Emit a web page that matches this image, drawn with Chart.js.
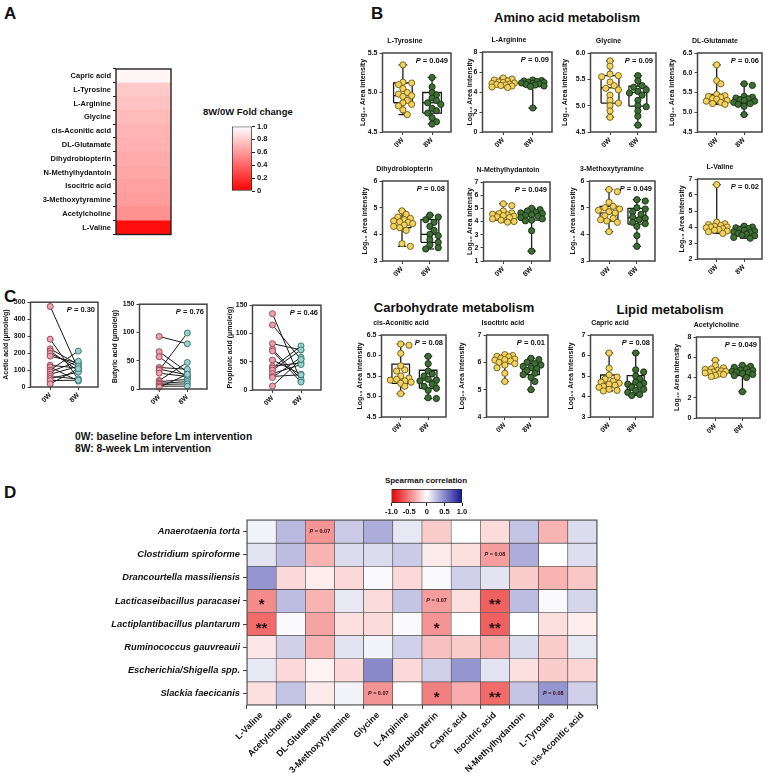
<!DOCTYPE html>
<html>
<head>
<meta charset="utf-8">
<title>Lm intervention metabolites</title>
<script src="https://cdn.jsdelivr.net/npm/chart.js@4.4.1/dist/chart.umd.min.js"></script>
<style>
  body { margin: 0; background: #fff; }
  #fig { position: relative; width: 767px; height: 778px; overflow: hidden; font-family: "Liberation Sans", Arial, sans-serif; color: #111; }
  #fig canvas { position: absolute; }
  .t { position: absolute; font-weight: bold; white-space: nowrap; line-height: 1; }
  .c { transform: translate(-50%, -50%); }
  .l { transform: translate(0, -50%); }
</style>
</head>
<body>
<div id="fig">
  <div class="t" style="left:4px;top:5px;font-size:17px">A</div>
  <div class="t" style="left:371px;top:5px;font-size:17px">B</div>
  <div class="t" style="left:4px;top:288px;font-size:17px">C</div>
  <div class="t" style="left:4px;top:484px;font-size:17px">D</div>
  <div class="t c" style="left:567px;top:17px;font-size:13px">Amino acid metabolism</div>
  <div class="t c" style="left:454px;top:307px;font-size:13px">Carbohydrate metabolism</div>
  <div class="t c" style="left:670px;top:309px;font-size:13px">Lipid metabolism</div>
  <div class="t l" style="left:203px;top:112px;font-size:9.5px">8W/0W Fold change</div>
  <div class="t l" style="left:75px;top:437px;font-size:10.3px">0W: baseline before Lm intervention</div>
  <div class="t l" style="left:75px;top:449px;font-size:10.3px">8W: 8-week Lm intervention</div>
  <div class="t c" style="left:426px;top:481px;font-size:8px">Spearman correlation</div>
</div>
<script>
// Panel A - 8W/0W fold change
const foldNames = ['Capric acid', 'L-Tyrosine', 'L-Arginine', 'Glycine', 'cis-Aconitic acid', 'DL-Glutamate',
  'Dihydrobiopterin', 'N-Methylhydantoin', 'Isocitric acid', '3-Methoxytyramine', 'Acetylcholine', 'L-Valine'];
const foldChange = [0.97, 0.79, 0.76, 0.73, 0.71, 0.69, 0.67, 0.65, 0.63, 0.61, 0.57, 0.05];
const foldTicks = [0, 0.2, 0.4, 0.6, 0.8, 1.0];

// Panel B - Log10 area intensity per sample, box = [min, q1, median, q3, max] for 0W and 8W
const tyrosine0W = [5.35, 5.13, 5.12, 5.1, 5.05, 5.0, 4.98, 4.96, 4.95, 4.9, 4.87, 4.85, 4.83, 4.78, 4.72];
const tyrosine8W = [5.19, 5.07, 5.0, 4.97, 4.93, 4.9, 4.87, 4.85, 4.8, 4.77, 4.74, 4.68, 4.63, 4.6];
const tyrosineBox = [[4.72, 4.87, 4.96, 5.12, 5.35], [4.6, 4.74, 4.87, 5.0, 5.19]];

const arginine0W = [5.4, 5.3, 5.2, 5.1, 5.0, 4.95, 4.9, 4.85, 4.8, 4.75, 4.7, 4.65, 4.6, 4.5, 4.45];
const arginine8W = [5.2, 5.15, 5.1, 5.05, 5.0, 4.95, 4.9, 4.85, 4.8, 4.75, 4.7, 4.6, 4.55, 2.4];
const arginineBox = [[4.45, 4.7, 4.85, 5.0, 5.4], [2.4, 4.6, 4.8, 5.0, 5.2]];

const glycine0W = [5.85, 5.75, 5.6, 5.57, 5.55, 5.45, 5.38, 5.33, 5.3, 5.2, 5.1, 5.05, 5.0, 4.9, 4.78];
const glycine8W = [5.57, 5.47, 5.38, 5.35, 5.3, 5.27, 5.24, 5.2, 5.1, 5.0, 4.98, 4.9, 4.8, 4.63];
const glycineBox = [[4.78, 5.05, 5.34, 5.57, 5.85], [4.63, 4.99, 5.25, 5.37, 5.57]];

const glutamate0W = [6.2, 5.8, 5.72, 5.45, 5.42, 5.4, 5.38, 5.35, 5.33, 5.3, 5.28, 5.25, 5.22, 5.2];
const glutamate8W = [5.72, 5.68, 5.4, 5.38, 5.36, 5.34, 5.32, 5.3, 5.28, 5.25, 5.22, 5.2, 5.15, 4.94];
const glutamateBox = [[5.2, 5.28, 5.37, 5.45, 6.2], [4.94, 5.22, 5.3, 5.37, 5.72]];

const dihydro0W = [4.88, 4.75, 4.65, 4.6, 4.55, 4.5, 4.47, 4.45, 4.4, 4.35, 4.3, 4.25, 4.15, 3.65, 3.55];
const dihydro8W = [4.72, 4.65, 4.55, 4.45, 4.3, 4.15, 4.0, 3.95, 3.8, 3.7, 3.6, 3.5, 3.45];
const dihydroBox = [[3.55, 4.25, 4.45, 4.6, 4.88], [3.45, 3.7, 4.0, 4.55, 4.72]];

const methylhyd0W = [5.35, 5.2, 4.8, 4.65, 4.6, 4.55, 4.5, 4.45, 4.4, 4.35, 4.3, 4.2, 4.1, 4.0, 3.95];
const methylhyd8W = [5.0, 4.9, 4.8, 4.7, 4.65, 4.6, 4.5, 4.45, 4.4, 4.3, 4.2, 4.1, 4.05, 3.3, 1.75];
const methylhydBox = [[3.95, 4.1, 4.35, 4.65, 5.35], [1.75, 4.1, 4.4, 4.65, 5.0]];

const methoxy0W = [5.68, 5.6, 5.2, 5.05, 5.0, 4.95, 4.9, 4.85, 4.8, 4.7, 4.6, 4.55, 4.5, 4.45, 4.1];
const methoxy8W = [5.3, 5.25, 5.0, 4.95, 4.85, 4.75, 4.65, 4.6, 4.55, 4.45, 4.4, 4.3, 3.95, 3.55];
const methoxyBox = [[4.1, 4.5, 4.8, 5.05, 5.68], [3.55, 4.38, 4.62, 4.97, 5.3]];

const valine0W = [6.65, 4.3, 4.2, 4.15, 4.1, 4.05, 4.0, 4.0, 3.95, 3.9, 3.85, 3.8, 3.75, 3.7, 3.6];
const valine8W = [4.05, 4.0, 3.95, 3.9, 3.85, 3.8, 3.75, 3.7, 3.65, 3.6, 3.55, 3.5, 3.45, 3.35, 3.3];
const valineBox = [[3.6, 3.82, 4.0, 4.15, 6.65], [3.3, 3.5, 3.7, 3.9, 4.05]];

const aconitic0W = [6.28, 6.25, 6.05, 5.75, 5.65, 5.62, 5.5, 5.45, 5.42, 5.4, 5.38, 5.35, 5.32, 5.25, 5.07];
const aconitic8W = [5.98, 5.8, 5.62, 5.55, 5.5, 5.42, 5.4, 5.38, 5.3, 5.25, 5.2, 5.15, 4.97, 4.95];
const aconiticBox = [[5.07, 5.32, 5.43, 5.79, 6.28], [4.95, 5.2, 5.4, 5.64, 5.98]];

const isocitric0W = [6.28, 6.25, 6.22, 6.2, 6.15, 6.12, 6.1, 6.08, 6.05, 6.0, 5.95, 5.9, 5.8, 5.6, 5.3];
const isocitric8W = [6.15, 6.1, 6.0, 5.95, 5.9, 5.85, 5.8, 5.77, 5.7, 5.6, 5.55, 5.45, 5.3, 5.0];
const isocitricBox = [[5.3, 5.95, 6.08, 6.22, 6.28], [5.0, 5.55, 5.77, 5.95, 6.15]];

const capric0W = [6.12, 5.38, 5.05, 4.95, 4.85, 4.75, 4.7, 4.65, 4.6, 4.55, 4.5, 4.45, 4.35, 4.3, 4.27];
const capric8W = [6.12, 5.3, 5.2, 5.0, 4.85, 4.7, 4.65, 4.6, 4.55, 4.45, 4.35, 4.3, 4.2, 4.1, 4.05];
const capricBox = [[4.27, 4.5, 4.65, 5.05, 6.12], [4.05, 4.32, 4.62, 5.02, 6.12]];

const acetylcholine0W = [5.7, 5.2, 4.95, 4.85, 4.8, 4.7, 4.65, 4.6, 4.55, 4.5, 4.45, 4.35, 4.3, 4.2, 4.1];
const acetylcholine8W = [5.2, 5.1, 5.0, 4.85, 4.75, 4.7, 4.6, 4.55, 4.5, 4.4, 4.3, 4.2, 4.0, 2.6];
const acetylcholineBox = [[4.1, 4.35, 4.6, 4.85, 5.7], [2.6, 4.2, 4.5, 4.75, 5.2]];

// axis: [min, max, step, decimals]
const boxPlots = [
  { title: 'L-Tyrosine', p: '0.049', axis: [4.5, 5.5, 0.5, 1], v0: tyrosine0W, v8: tyrosine8W, box: tyrosineBox },
  { title: 'L-Arginine', p: '0.09', axis: [0, 8, 2, 0], v0: arginine0W, v8: arginine8W, box: arginineBox },
  { title: 'Glycine', p: '0.09', axis: [4.5, 6.0, 0.5, 1], v0: glycine0W, v8: glycine8W, box: glycineBox },
  { title: 'DL-Glutamate', p: '0.06', axis: [4.5, 6.5, 0.5, 1], v0: glutamate0W, v8: glutamate8W, box: glutamateBox },
  { title: 'Dihydrobiopterin', p: '0.08', axis: [3, 6, 1, 0], v0: dihydro0W, v8: dihydro8W, box: dihydroBox },
  { title: 'N-Methylhydantoin', p: '0.049', axis: [1, 7, 1, 0], v0: methylhyd0W, v8: methylhyd8W, box: methylhydBox },
  { title: '3-Methoxytyramine', p: '0.049', axis: [3, 6, 1, 0], v0: methoxy0W, v8: methoxy8W, box: methoxyBox },
  { title: 'L-Valine', p: '0.02', axis: [2, 7, 1, 0], v0: valine0W, v8: valine8W, box: valineBox },
  { title: 'cis-Aconitic acid', p: '0.08', axis: [4.5, 6.5, 0.5, 1], v0: aconitic0W, v8: aconitic8W, box: aconiticBox },
  { title: 'Isocitric acid', p: '0.01', axis: [4, 7, 1, 0], v0: isocitric0W, v8: isocitric8W, box: isocitricBox },
  { title: 'Capric acid', p: '0.08', axis: [3, 7, 1, 0], v0: capric0W, v8: capric8W, box: capricBox },
  { title: 'Acetylcholine', p: '0.049', axis: [0, 8, 2, 0], v0: acetylcholine0W, v8: acetylcholine8W, box: acetylcholineBox }
];
// where each plot sits: [y axis x, right edge, top, bottom, y title distance]
const boxLayout = [
  [382, 451, 53, 132, 19], [482, 552, 52, 132, 12], [590, 656, 53, 132, 25], [697, 762, 53, 132, 25],
  [382, 448, 181, 261, 17], [483, 550, 182, 261, 13], [589, 655, 181, 261, 16], [697, 762, 179, 259, 15],
  [381, 446, 335, 417, 21], [486, 548, 335, 417, 24], [590, 653, 335, 417, 19], [696, 760, 337, 418, 19]
];

// Panel C - short chain fatty acids, paired by subject (umole/g)
const acetic0W = [475, 282, 225, 212, 198, 182, 128, 118, 100, 90, 75, 62, 50, 38, 18];
const acetic8W = [105, 45, 132, 95, 120, 142, 112, 35, 212, 152, 122, 48, 88, 40, 108];
const butyric0W = [93, 66, 57, 38, 35, 33, 28, 15, 13, 10, 8, 5, 3];
const butyric8W = [80, 30, 20, 35, 25, 99, 22, 47, 17, 13, 9, 5, 26];
const propionic0W = [135, 115, 82, 72, 69, 53, 42, 39, 35, 29, 24, 22, 7];
const propionic8W = [16, 54, 71, 19, 14, 28, 48, 78, 71, 45, 27, 58, 54];

const pairedPlots = [
  { title: 'Acetic acid (\u03bcmole/g)', p: '0.30', axis: [0, 500, 100], v0: acetic0W, v8: acetic8W },
  { title: 'Butyric acid (\u03bcmole/g)', p: '0.76', axis: [0, 150, 50], v0: butyric0W, v8: butyric8W },
  { title: 'Propionic acid (\u03bcmole/g)', p: '0.46', axis: [0, 150, 50], v0: propionic0W, v8: propionic8W }
];
const pairedLayout = [[30, 98, 302, 387, 24], [139, 207, 304, 389, 24], [252, 321, 305, 390, 22]];

// Panel D - Spearman correlation, species x metabolites
const corrMetabolites = ['L-Valine', 'Acetylcholine', 'DL-Glutamate', '3-Methoxytyramine', 'Glycine', 'L-Arginine',
  'Dihydrobiopterin', 'Capric acid', 'Isocitric acid', 'N-Methylhydantoin', 'L-Tyrosine', 'cis-Aconitic acid'];
const corrSpecies = ['Anaerotaenia torta', 'Clostridium spiroforme', 'Drancourtella massiliensis',
  'Lacticaseibacillus paracasei', 'Lactiplantibacillus plantarum', 'Ruminococcus gauvreauii',
  'Escherichia/Shigella spp.', 'Slackia faecicanis'];
const rhoAnaerotaenia = [0.05, 0.3, -0.42, 0.22, 0.35, 0.1, -0.2, 0.0, -0.14, 0.25, -0.3, 0.15];
const rhoClostridium = [0.12, 0.28, -0.3, 0.15, 0.15, 0.22, -0.08, -0.12, -0.38, 0.35, 0.0, 0.14];
const rhoDrancourtella = [0.45, -0.15, -0.07, -0.15, 0.02, -0.15, 0.02, 0.2, 0.12, -0.2, -0.3, -0.22];
const rhoLacticaseibacillus = [-0.45, 0.28, -0.3, 0.1, -0.14, 0.25, -0.38, -0.12, -0.62, 0.28, 0.02, 0.18];
const rhoLactiplantibacillus = [-0.58, 0.02, -0.36, -0.12, -0.14, 0.02, -0.42, 0.0, -0.62, 0.0, -0.12, -0.07];
const rhoRuminococcus = [-0.1, 0.2, -0.3, 0.12, 0.05, 0.2, -0.24, -0.2, -0.3, 0.15, -0.2, 0.1];
const rhoEscherichia = [0.1, -0.15, -0.05, -0.15, 0.5, -0.15, 0.2, 0.45, 0.12, -0.12, -0.2, -0.17];
const rhoSlackia = [-0.12, 0.25, -0.08, 0.05, -0.42, 0.0, -0.5, -0.32, -0.58, 0.25, 0.45, 0.2];
const corrRows = [rhoAnaerotaenia, rhoClostridium, rhoDrancourtella, rhoLacticaseibacillus,
  rhoLactiplantibacillus, rhoRuminococcus, rhoEscherichia, rhoSlackia];
// [row, column, label]
const corrMarks = [[0, 2, 'P = 0.07'], [1, 8, 'P = 0.08'], [3, 0, '*'], [3, 6, 'P = 0.07'], [3, 8, '**'],
  [4, 0, '**'], [4, 6, '*'], [4, 8, '**'], [7, 4, 'P = 0.07'], [7, 6, '*'], [7, 8, '**'], [7, 10, 'P = 0.08']];
const corrTicks = [-1, -0.5, 0, 0.5, 1];

const FONT = "'Liberation Sans', Arial, sans-serif";
Chart.defaults.font.family = FONT;
Chart.defaults.color = '#111';
Chart.defaults.animation = false;
Chart.defaults.plugins.legend.display = false;
Chart.defaults.plugins.tooltip.enabled = false;

function addCanvas(left, top, w, h) {
  const c = document.createElement('canvas');
  c.width = w; c.height = h;
  c.style.left = left + 'px'; c.style.top = top + 'px';
  c.style.width = w + 'px'; c.style.height = h + 'px';
  document.getElementById('fig').appendChild(c);
  return c;
}

// "P = x" with an italic P
function drawP(ctx, text, x, y, size, align) {
  const rest = text.replace(/^P/, '');
  ctx.font = 'bold ' + size + 'px ' + FONT;
  const wRest = ctx.measureText(rest).width;
  ctx.font = 'italic bold ' + size + 'px ' + FONT;
  const wP = ctx.measureText('P').width;
  const start = align === 'right' ? x - wRest - wP : x - (wRest + wP) / 2;
  ctx.textAlign = 'left';
  ctx.textBaseline = 'middle';
  ctx.fillText('P', start, y);
  ctx.font = 'bold ' + size + 'px ' + FONT;
  ctx.fillText(rest, start + wP, y);
}

const framePlugin = {
  id: 'frame',
  afterDraw(chart, args, opts) {
    const { ctx, chartArea: a } = chart;
    ctx.save();
    ctx.strokeStyle = opts.color || '#444';
    ctx.lineWidth = opts.width || 1.5;
    ctx.strokeRect(a.left, a.top, a.right - a.left, a.bottom - a.top);
    if (opts.p) {
      ctx.fillStyle = '#111';
      drawP(ctx, 'P = ' + opts.p, a.right - 3, a.top + 8, 7.5, 'right');
    }
    ctx.restore();
  }
};

const cellTextPlugin = {
  id: 'cellText',
  afterDatasetsDraw(chart, args, opts) {
    const { ctx, scales: { x, y } } = chart;
    ctx.save();
    ctx.fillStyle = '#2a1010';
    opts.marks.forEach(([r, c, t]) => {
      const cx = x.getPixelForValue(c);
      const cy = y.getPixelForValue(r + 0.5);
      if (t.startsWith('P')) {
        drawP(ctx, t, cx, cy, 5.5, 'center');
      } else {
        ctx.font = 'bold 15px ' + FONT;
        ctx.textAlign = 'center';
        ctx.textBaseline = 'alphabetic';
        ctx.fillText(t, cx, cy + 8.5);
      }
    });
    ctx.restore();
  }
};

// spread points sideways so they do not sit on top of each other
function swarm(vals, x, pxX, pxY) {
  const seq = [0, 0.15, -0.15, 0.3, -0.3, 0.08, -0.08, 0.22, -0.22, 0.38, -0.38];
  const placed = [];
  vals.forEach(v => {
    let best = 0, bestD = -1;
    for (const o of seq) {
      let dmin = Infinity;
      placed.forEach(p => {
        dmin = Math.min(dmin, Math.hypot((p.x - x - o) * pxX, (p.y - v) * pxY));
      });
      if (dmin >= 5) { best = o; break; }
      if (dmin > bestD) { bestD = dmin; best = o; }
    }
    placed.push({ x: x + best, y: v });
  });
  return placed;
}

function lineSet(points, width) {
  return {
    data: points.map(([x, y]) => ({ x, y })), showLine: true, borderColor: '#1a1a1a',
    borderWidth: width || 1.3, pointRadius: 0, order: 2, clip: false
  };
}

function boxLines(x, s) {
  const [mn, q1, md, q3, mx] = s, w = 0.32, c = 0.15;
  return [
    [[x - w, q1], [x + w, q1], [x + w, q3], [x - w, q3], [x - w, q1]],
    [[x - w, md], [x + w, md]],
    [[x, mn], [x, q1]], [[x - c, mn], [x + c, mn]],
    [[x, q3], [x, mx]], [[x - c, mx], [x + c, mx]]
  ];
}

const groupFill = ['#f3d35f', '#3f6d36'];
const groupEdge = ['#7a6420', '#1b3516'];

function xAxis01(height, size) {
  return {
    type: 'linear', min: 0.3, max: 2.65,
    afterBuildTicks: a => { a.ticks = [{ value: 1 }, { value: 2 }]; },
    ticks: { callback: v => (v === 1 ? '0W' : '8W'), minRotation: 45, maxRotation: 45, autoSkip: false,
      font: { size: size, weight: 'bold' }, padding: 1 },
    grid: { drawOnChartArea: false, tickLength: 3, color: '#444' },
    border: { display: false },
    afterFit: s => { s.height = height; }
  };
}

// Panel B box plots
boxPlots.forEach((d, i) => {
  const [ax, right, top, bottom, td] = boxLayout[i];
  const [ymin, ymax, step, dec] = d.axis;
  const yw = td + 4.5;
  const left = ax - yw, cTop = top - 16;
  const pxX = (right - ax) / 2.35, pxY = (bottom - top) / (ymax - ymin);
  const datasets = [];
  [d.v0, d.v8].forEach((vals, g) => {
    datasets.push({ data: swarm(vals, g + 1, pxX, pxY), backgroundColor: groupFill[g], borderColor: groupEdge[g],
      borderWidth: 1, pointRadius: 3.1, order: 1, clip: false });
  });
  d.box.forEach((s, g) => boxLines(g + 1, s).forEach(p => datasets.push(lineSet(p))));
  new Chart(addCanvas(left, cTop, right - left + 5, bottom - cTop + 26), {
    type: 'scatter',
    data: { datasets },
    options: {
      responsive: false,
      layout: { autoPadding: false, padding: { right: 5 } },
      scales: {
        x: xAxis01(26, 7),
        y: {
          min: ymin, max: ymax,
          ticks: { stepSize: step, callback: v => Number(v).toFixed(dec), font: { size: 7, weight: 'bold' }, padding: 2 },
          grid: { drawOnChartArea: false, tickLength: 3, color: '#444' },
          border: { display: false },
          title: { display: true, text: 'Log\u2081\u2080 Area intensity', font: { size: 7, weight: 'bold' }, padding: 0 },
          afterFit: s => { s.width = yw; }
        }
      },
      plugins: {
        title: { display: true, text: d.title, color: '#111', font: { size: 7, weight: 'bold' }, padding: { top: 0, bottom: 7.6 } },
        frame: { p: d.p }
      }
    },
    plugins: [framePlugin]
  });
});

// Panel C paired plots
pairedPlots.forEach((d, i) => {
  const [ax, right, top, bottom, td] = pairedLayout[i];
  const [ymin, ymax, step] = d.axis;
  const yw = td + 4.5;
  const left = ax - yw, cTop = top - 6;
  const datasets = [
    { data: d.v0.map(v => ({ x: 1, y: v })), backgroundColor: '#eaa3ad', borderColor: '#9e4a58', borderWidth: 1, pointRadius: 3, order: 1, clip: false },
    { data: d.v8.map(v => ({ x: 2, y: v })), backgroundColor: '#9ad0cb', borderColor: '#3d7c77', borderWidth: 1, pointRadius: 3, order: 1, clip: false }
  ];
  d.v0.forEach((v, k) => datasets.push(lineSet([[1, v], [2, d.v8[k]]], 1)));
  new Chart(addCanvas(left, cTop, right - left + 5, bottom - cTop + 24), {
    type: 'scatter',
    data: { datasets },
    options: {
      responsive: false,
      layout: { autoPadding: false, padding: { top: 6, right: 5 } },
      scales: {
        x: Object.assign(xAxis01(24, 7), { min: 0.3, max: 2.7 }),
        y: {
          min: ymin, max: ymax,
          ticks: { stepSize: step, font: { size: 7, weight: 'bold' }, padding: 2 },
          grid: { drawOnChartArea: false, tickLength: 3, color: '#444' },
          border: { display: false },
          title: { display: true, text: d.title, font: { size: 7, weight: 'bold' }, padding: 0 },
          afterFit: s => { s.width = yw; }
        }
      },
      plugins: { frame: { p: d.p } }
    },
    plugins: [framePlugin]
  });
});

// Panel A heatmap column
new Chart(addCanvas(0, 60, 176, 181), {
  type: 'bar',
  data: {
    labels: foldNames,
    datasets: [{
      data: foldChange.map(() => [0, 1]),
      backgroundColor: foldChange.map(v => `rgb(255,${Math.round(255 * v)},${Math.round(255 * v)})`),
      borderWidth: 0, barPercentage: 1, categoryPercentage: 1
    }]
  },
  options: {
    indexAxis: 'y',
    responsive: false,
    layout: { autoPadding: false, padding: { top: 9, right: 5, bottom: 6 } },
    scales: {
      x: { display: false, min: 0, max: 1 },
      y: {
        grid: { drawOnChartArea: false, tickLength: 3, color: '#222' },
        border: { display: false },
        ticks: { font: { size: 7.5, weight: 'bold' }, padding: 2, autoSkip: false },
        afterFit: s => { s.width = 116; }
      }
    },
    plugins: { frame: { color: '#222', width: 1.4 } }
  },
  plugins: [framePlugin]
});

// Panel A colour bar
new Chart(addCanvas(226, 120, 50, 78), {
  type: 'bar',
  data: {
    labels: [''],
    datasets: [{
      data: [[0, 1]],
      backgroundColor: ctx => {
        const a = ctx.chart.chartArea;
        if (!a) return '#fff';
        const g = ctx.chart.ctx.createLinearGradient(0, a.bottom, 0, a.top);
        g.addColorStop(0, 'rgb(255,0,0)');
        g.addColorStop(1, 'rgb(255,255,255)');
        return g;
      },
      borderColor: '#222', borderWidth: 1, borderSkipped: false, barPercentage: 1, categoryPercentage: 1
    }]
  },
  options: {
    responsive: false,
    layout: { autoPadding: false, padding: { left: 6, top: 6, bottom: 7 } },
    scales: {
      x: { display: false },
      y: {
        position: 'right', min: 0, max: 1,
        afterBuildTicks: a => { a.ticks = foldTicks.map(value => ({ value })); },
        ticks: { callback: v => (v === 0 ? '0' : v.toFixed(1)), font: { size: 7.5, weight: 'bold' }, padding: 2 },
        grid: { drawOnChartArea: false, tickLength: 3, color: '#222' },
        border: { display: false },
        afterFit: s => { s.width = 24; }
      }
    }
  }
});

// Panel D colour bar
new Chart(addCanvas(384, 485, 88, 38), {
  type: 'bar',
  data: {
    labels: [''],
    datasets: [{
      data: [[-1, 1]],
      backgroundColor: ctx => {
        const a = ctx.chart.chartArea;
        if (!a) return '#fff';
        const g = ctx.chart.ctx.createLinearGradient(a.left, 0, a.right, 0);
        g.addColorStop(0, 'rgb(230,0,0)');
        g.addColorStop(0.5, 'rgb(255,255,255)');
        g.addColorStop(1, 'rgb(20,20,150)');
        return g;
      },
      borderColor: '#222', borderWidth: 1, borderSkipped: false, barPercentage: 1, categoryPercentage: 1
    }]
  },
  options: {
    indexAxis: 'y',
    responsive: false,
    layout: { autoPadding: false, padding: { left: 6, right: 10, top: 4 } },
    scales: {
      y: { display: false },
      x: {
        min: -1, max: 1,
        afterBuildTicks: a => { a.ticks = corrTicks.map(value => ({ value })); },
        ticks: { callback: v => (v === 0 ? '0' : v.toFixed(1)), font: { size: 7.5, weight: 'bold' }, padding: 1,
          maxRotation: 0, minRotation: 0, autoSkip: false },
        grid: { drawOnChartArea: false, tickLength: 3, color: '#222' },
        border: { display: false },
        afterFit: s => { s.height = 20; }
      }
    }
  }
});

// Panel D heatmap
function corrColor(v) {
  const t = Math.min(1, Math.abs(v));
  const end = v < 0 ? [230, 0, 0] : [20, 20, 150];
  return 'rgb(' + end.map(e => Math.round(255 + (e - 255) * t)).join(',') + ')';
}

new Chart(addCanvas(0, 510, 612, 268), {
  type: 'bar',
  data: {
    labels: corrMetabolites,
    datasets: corrRows.map((row, i) => ({
      data: row.map(() => [i, i + 1]),
      backgroundColor: row.map(corrColor),
      borderColor: '#4a4a4a', borderWidth: 0.6, borderSkipped: false,
      barPercentage: 1, categoryPercentage: 1, grouped: false
    }))
  },
  options: {
    responsive: false,
    layout: { autoPadding: false, padding: { top: 10, right: 15 } },
    scales: {
      x: {
        grid: { drawOnChartArea: false, tickLength: 4, color: '#444' },
        border: { display: false },
        ticks: { minRotation: 45, maxRotation: 45, autoSkip: false, font: { size: 9, weight: 'bold' }, padding: 1 },
        afterFit: s => { s.height = 73; }
      },
      y: {
        min: 0, max: 8, reverse: true,
        afterBuildTicks: a => { a.ticks = corrSpecies.map((s, i) => ({ value: i + 0.5 })); },
        ticks: { callback: (v, i) => corrSpecies[i], font: { size: 9.3, weight: 'bold', style: 'italic' }, padding: 3, autoSkip: false },
        grid: { drawOnChartArea: false, tickLength: 4, color: '#444' },
        border: { display: false },
        afterFit: s => { s.width = 247; }
      }
    },
    plugins: { cellText: { marks: corrMarks }, frame: { color: '#4a4a4a', width: 1 } }
  },
  plugins: [cellTextPlugin, framePlugin]
});
</script>
</body>
</html>
